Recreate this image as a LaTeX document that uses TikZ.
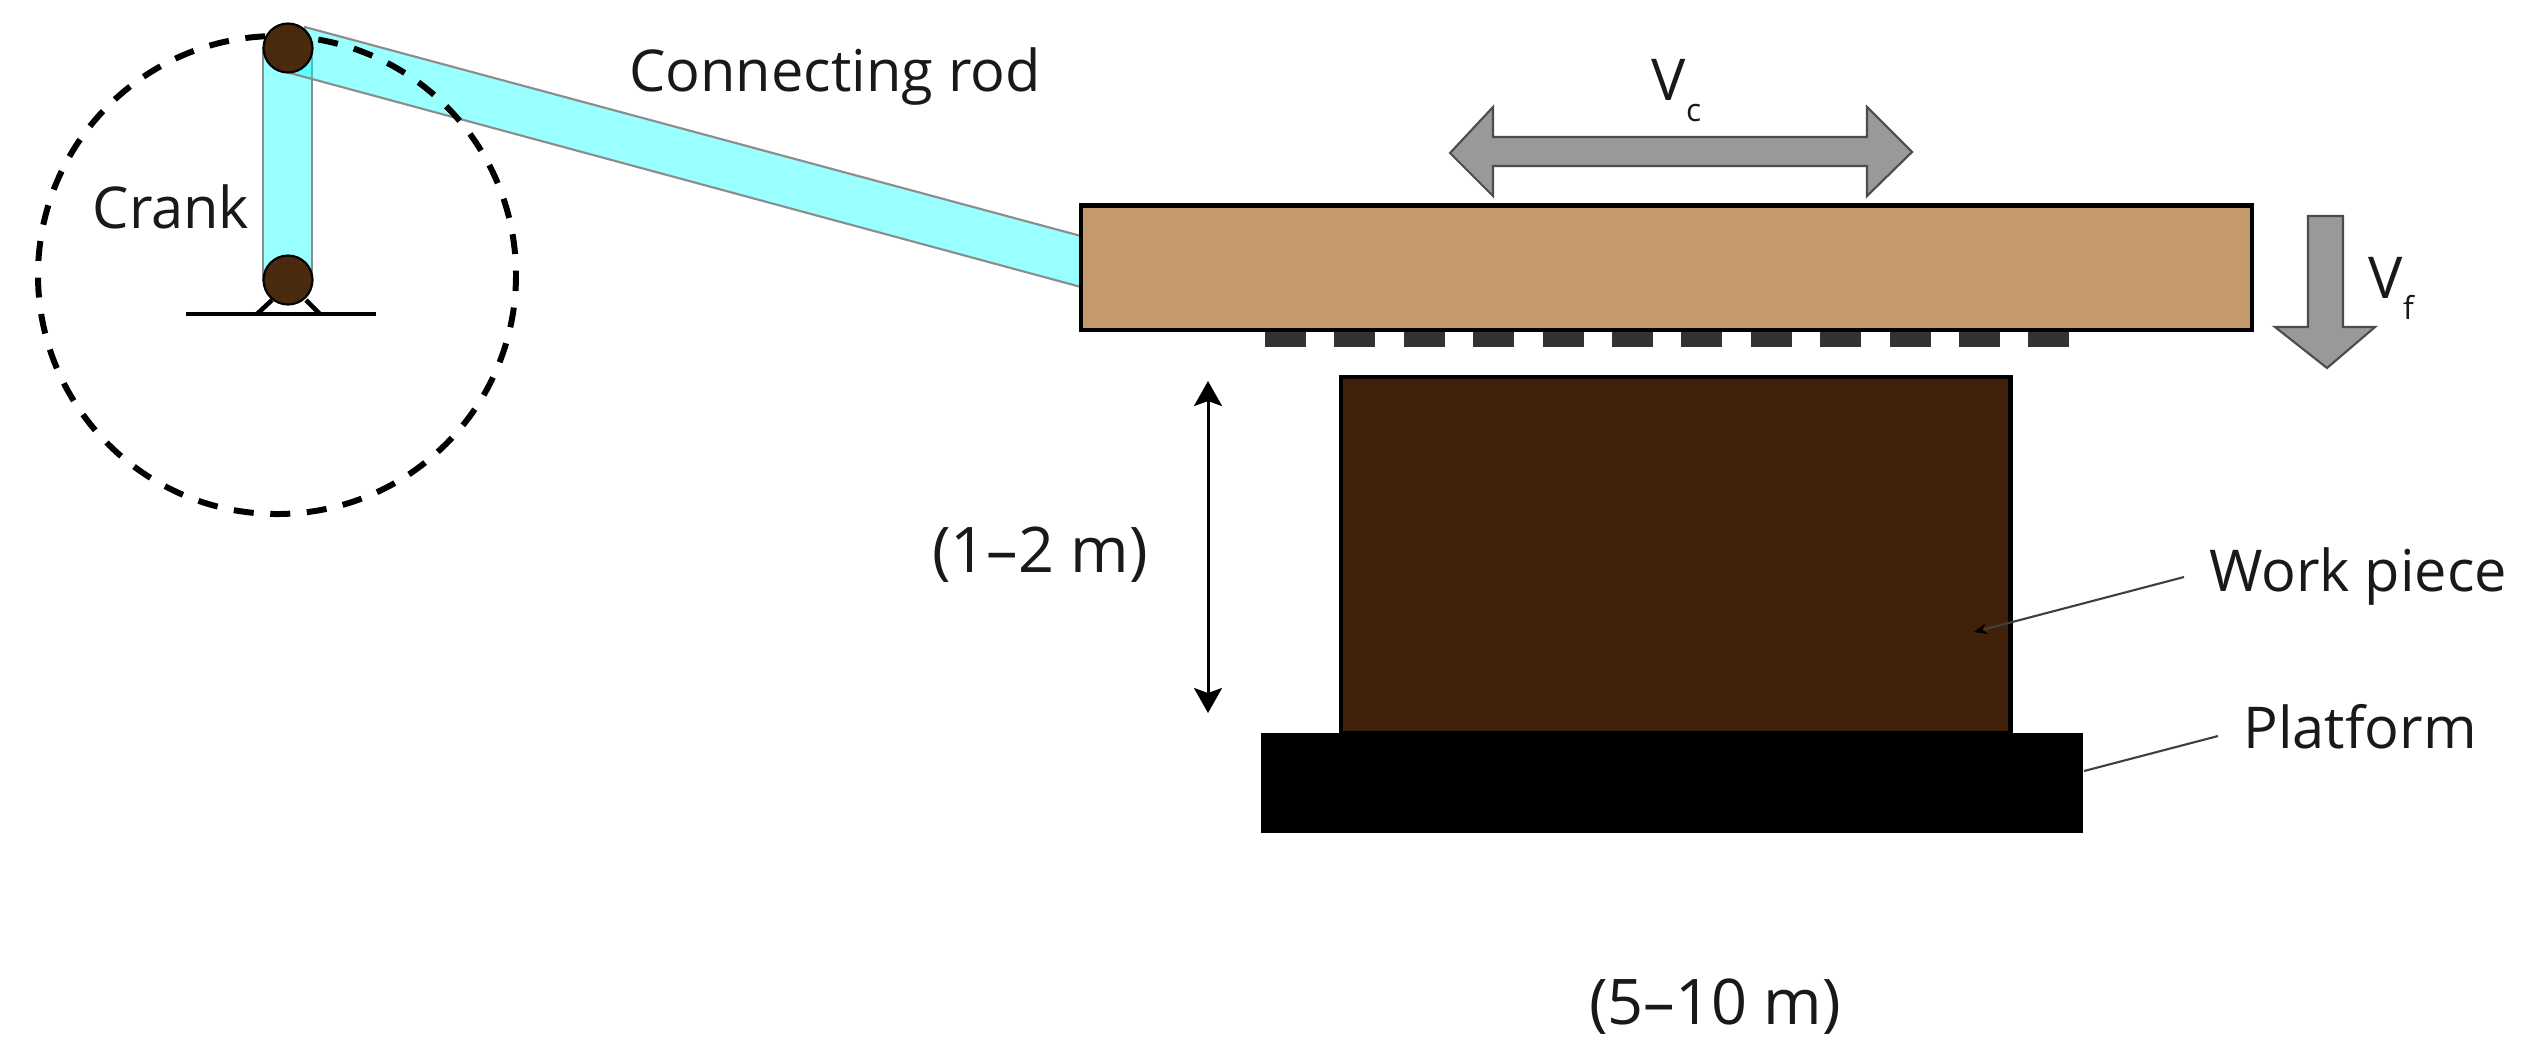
\documentclass[tikz,border=0pt]{standalone}
\usepackage{fontspec}
\setmainfont{Open Sans}
\usetikzlibrary{arrows.meta,positioning,calc}
\definecolor{rodcyan}{HTML}{00FFFF}
\definecolor{pinbrown}{HTML}{4A2A0E}
\definecolor{ramtan}{HTML}{C49A6C}
\definecolor{workbrown}{HTML}{42210B}
\definecolor{toolgrey}{HTML}{333333}
\definecolor{arrowgrey}{HTML}{999999}
\newcommand{\lowsub}[1]{\raisebox{-6.2pt}{\fontsize{9}{9}\selectfont #1}}

\begin{document}
\begin{tikzpicture}[x=0.01cm,y=-0.01cm]
  % Styles
  \tikzset{
    link/.style={draw=black!45, line width=0.6pt, fill=rodcyan, fill opacity=0.4},
    pin/.style={circle, draw=black, line width=0.6pt, fill=pinbrown, minimum size=0.49cm, inner sep=0pt},
    label/.style={font=\fontsize{16.4}{20}\selectfont, text=black!90, inner sep=0pt, anchor=base},
    dimlabel/.style={font=\fontsize{17.9}{22}\selectfont, text=black!90, inner sep=0pt, anchor=base},
    motion/.style={draw=black!70, line width=0.6pt, fill=arrowgrey},
    leader/.style={draw=black!75, line width=0.6pt},
    dimline/.style={{Stealth[length=0.25cm,width=0.28cm,inset=0.05cm]}-{Stealth[length=0.25cm,width=0.28cm,inset=0.05cm]}, line width=0.85pt},
  }
  \useasboundingbox (0,0) rectangle (2528,1062);

  % Crank and rod
  \fill[white] (0,0) rectangle (2528,1062);
  \path[link] (263,48) rectangle (312,280);
  \path[link] (305,27) -- (1081,236) -- (1081,287) -- (290,73) -- cycle;
  \draw[line width=1.7pt, dash pattern=on 0.2cm off 0.166cm, dash phase=0.04cm] (277,275) circle (239);

  % Pins and support
  \node[pin] (toppin) at (288,48) {};
  \coordinate (baseleft) at (186,314);
  \coordinate (baseright) at (376,314);
  \draw[line width=1.3pt] (baseleft) -- (baseright);
  \draw[line width=1.3pt] (272,300) -- (257,314) (306,300) -- (320,314);
  \node[pin] (botpin) at (288,280) {};

  % Ram and tools
  \node[draw=black, line width=1.3pt, fill=ramtan, minimum width=11.7cm, minimum height=1.245cm, inner sep=0pt] (ram) at (1666.5,267.7) {};
  \foreach \i in {0,...,11}
    \fill[toolgrey] ({1265+69.4*\i},332) rectangle ++(41,15);

  % Work piece and platform
  \node[draw=black, line width=1.3pt, fill=workbrown, minimum width=6.69cm, minimum height=3.56cm, inner sep=0pt] (work) at (1675.5,555) {};
  \node[fill=black, minimum width=8.22cm, minimum height=1cm, inner sep=0pt] (platform) at (1672,783) {};

  % Motion arrows
  \path[motion] (1450,153) -- (1493,107) -- (1493,137) -- (1867,137) -- (1867,107) -- (1912,152) -- (1867,196) -- (1867,166) -- (1493,166) -- (1493,196) -- cycle;
  \path[motion] (2308,216) -- (2343,216) -- (2343,327) -- (2375,327) -- (2327,368) -- (2275,327) -- (2308,327) -- cycle;

  % Labels
  \node[label] (rodlabel) at (835,91) {Connecting rod};
  \node[label] (cranklabel) at (171,228) {Crank};
  \node[label, anchor=base west] (vclabel) at (1651,100) {V\lowsub{c}};
  \node[label, anchor=base west] (vflabel) at (2368,298) {V\lowsub{f}};
  \node[dimlabel] (heightlabel) at (1040,572) {(1–2 m)};
  \node[dimlabel] (lengthlabel) at (1715,1024) {(5–10 m)};
  \node[label] (worklabel) at (2358,591) {Work piece};
  \node[label] (platformlabel) at (2360,748) {Platform};

  % Leaders
  \coordinate (workstart) at (2184,577);
  \coordinate (worktip) at (1974,632);
  \coordinate (platformstart) at (2218,736);
  \coordinate (platformend) at (2084,771);
  \coordinate (dimtop) at (1208,381);
  \coordinate (dimbot) at (1208,713);
  \draw[leader, -{Stealth[length=0.13cm,width=0.11cm,black]}] (workstart) -- (worktip);
  \draw[leader] (platformstart) -- (platformend);
  \draw[dimline] (dimtop) -- (dimbot);
\end{tikzpicture}
\end{document}
